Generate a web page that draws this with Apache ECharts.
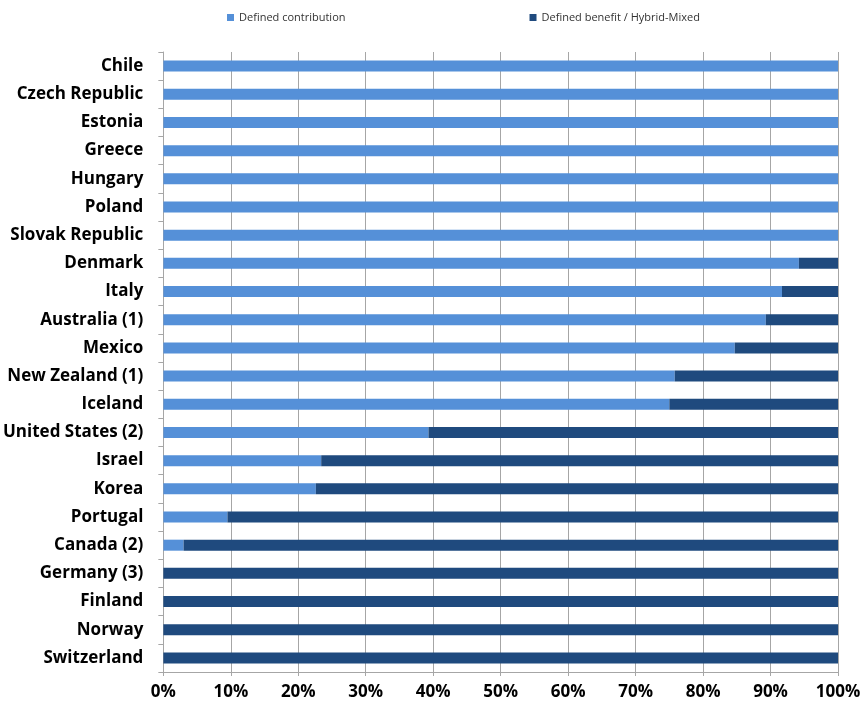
<!DOCTYPE html>
<html><head><meta charset="utf-8">
<script src="https://cdn.jsdelivr.net/npm/echarts@6/dist/echarts.min.js"></script>
<style>html,body{margin:0;padding:0;background:#fff}#c{width:864px;height:703px}</style>
</head><body><div id="c"></div>
<script>
const categories = ["Chile","Czech Republic","Estonia","Greece","Hungary","Poland","Slovak Republic","Denmark","Italy","Australia (1)","Mexico","New Zealand (1)","Iceland","United States (2)","Israel","Korea","Portugal","Canada (2)","Germany (3)","Finland","Norway","Switzerland"];
const definedContribution = [100,100,100,100,100,100,100,94.2,91.7,89.3,84.7,75.8,75.0,39.3,23.4,22.6,9.5,3.0,0,0,0,0];
const definedBenefit = definedContribution.map(v => +(100 - v).toFixed(1));
const seriesNames = ["Defined contribution","Defined benefit / Hybrid-Mixed"];

const chart = echarts.init(document.getElementById('c'));
chart.setOption({
  animation: false,
  legend: {
    top: 7, left: 222, itemGap: 184, icon: 'rect', itemWidth: 7, itemHeight: 7,
    textStyle: {fontFamily: 'Open Sans', fontSize: 11, color: '#333'},
    data: seriesNames
  },
  grid: {left: 162, right: 26, top: 52, bottom: 31, containLabel: false},
  xAxis: {
    type: 'value', min: 0, max: 100, interval: 10,
    axisLine: {show: true, lineStyle: {color: '#a6a6a6'}},
    axisTick: {show: true, length: 4, lineStyle: {color: '#a6a6a6'}},
    splitLine: {show: true, lineStyle: {color: '#a6a6a6', width: 1}},
    axisLabel: {formatter: '{value}%', fontFamily: 'Open Sans', fontWeight: 'bold', fontSize: 17, color: '#000', margin: 12}
  },
  yAxis: {
    type: 'category', data: categories, inverse: true,
    axisLine: {show: true, lineStyle: {color: '#a6a6a6'}},
    axisTick: {show: true, length: 5, lineStyle: {color: '#a6a6a6'}},
    axisLabel: {fontFamily: 'Open Sans', fontWeight: 'bold', fontSize: 17, color: '#000', margin: 20}
  },
  series: [
    {name: seriesNames[0], type: 'bar', stack: 's', data: definedContribution, barWidth: 11, itemStyle: {color: '#5590d8'}},
    {name: seriesNames[1], type: 'bar', stack: 's', data: definedBenefit, barWidth: 11, itemStyle: {color: '#1f4a7e'}}
  ]
});
</script></body></html>
